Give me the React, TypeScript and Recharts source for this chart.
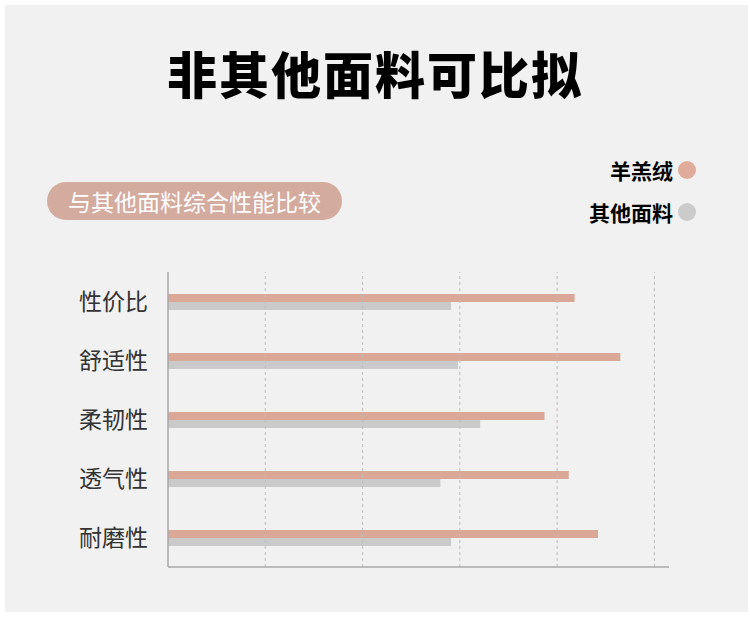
import React from "react";
import {
  BarChart,
  Bar,
  XAxis,
  YAxis,
  ReferenceLine,
} from "recharts";

const categories = ["性价比", "舒适性", "柔韧性", "透气性", "耐磨性"];
const cashmereValues = [4.18, 4.65, 3.87, 4.12, 4.42];
const otherValues = [2.91, 2.98, 3.21, 2.8, 2.91];
const xTicks = [1, 2, 3, 4, 5];

const seriesNames = ["羊羔绒", "其他面料"];
const PINK = "#dba797";
const GRAY = "#cacaca";

const data = categories.map((name, i) => ({
  name,
  cashmere: cashmereValues[i],
  other: otherValues[i],
}));

const FONT = '"Noto Sans CJK SC", "Noto Sans", sans-serif';

export default function App() {
  return (
    <div
      style={{
        position: "absolute",
        left: 0,
        top: 0,
        width: 750,
        height: 633,
        background: "#ffffff",
        fontFamily: FONT,
      }}
    >
      {/* gray panel */}
      <div
        style={{
          position: "absolute",
          left: 5,
          top: 5,
          width: 743,
          height: 607,
          background: "#f1f1f1",
        }}
      />

      {/* title */}
      <div
        style={{
          position: "absolute",
          left: 0,
          top: 40,
          width: 750,
          textAlign: "center",
          fontSize: 50,
          fontWeight: 900,
          color: "#000",
          lineHeight: "64px",
          letterSpacing: 2,
        }}
      >
        非其他面料可比拟
      </div>

      {/* pill */}
      <div
        style={{
          position: "absolute",
          left: 47,
          top: 182,
          width: 295,
          height: 38,
          borderRadius: 19,
          background: "#d4ab9f",
          color: "#fff",
          fontSize: 23,
          lineHeight: "38px",
          textAlign: "center",
        }}
      >
        与其他面料综合性能比较
      </div>

      {/* legend */}
      {seriesNames.map((s, i) => (
        <div
          key={s}
          style={{
            position: "absolute",
            right: 750 - 696,
            top: 157 + i * 42,
            height: 26,
            display: "flex",
            alignItems: "center",
            fontSize: 21,
            fontWeight: 700,
            color: "#000",
          }}
        >
          <span>{s}</span>
          <span
            style={{
              display: "inline-block",
              width: 18,
              height: 18,
              borderRadius: 9,
              marginLeft: 5,
              background: i === 0 ? "#e0ab9a" : "#cbcbcb",
            }}
          />
        </div>
      ))}

      <div style={{ position: "absolute", left: 0, top: 0 }}>
        <BarChart
          width={750}
          height={633}
          data={data}
          layout="vertical"
          margin={{ top: 272, right: 81, bottom: 65, left: 0 }}
          barGap={0}
        >
          <XAxis
            type="number"
            domain={[0, 5.15]}
            ticks={xTicks}
            tick={false}
            tickLine={false}
            height={1}
            axisLine={{ stroke: "#a8a8a8", strokeWidth: 1.5 }}
          />
          <YAxis
            type="category"
            dataKey="name"
            width={168}
            tickLine={false}
            tickMargin={14}
            axisLine={{ stroke: "#a8a8a8", strokeWidth: 1.5 }}
            tick={{ fill: "#333", fontSize: 23, fontFamily: FONT }}
          />
          {xTicks.map((t) => (
            <ReferenceLine
              key={t}
              x={t}
              stroke="#bdbdbd"
              strokeDasharray="3 3"
            />
          ))}
          <Bar
            dataKey="cashmere"
            name={seriesNames[0]}
            fill={PINK}
            barSize={8}
            isAnimationActive={false}
          />
          <Bar
            dataKey="other"
            name={seriesNames[1]}
            fill={GRAY}
            barSize={8}
            isAnimationActive={false}
          />
        </BarChart>
      </div>
    </div>
  );
}
